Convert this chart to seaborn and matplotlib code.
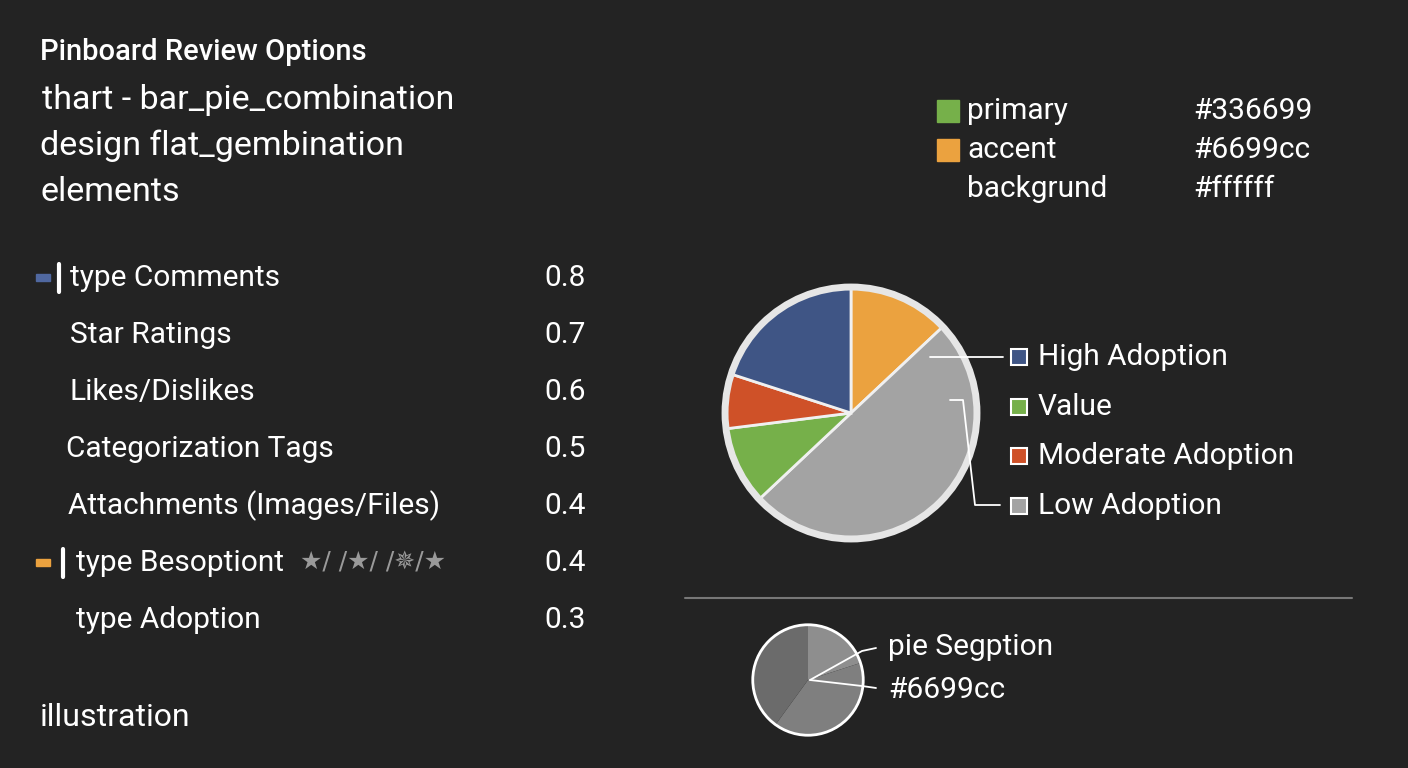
import matplotlib.pyplot as plt
from matplotlib.patches import Rectangle
import seaborn as sns

# --- data ---
header_lines = ["thart - bar_pie_combination", "design flat_gembination", "elements"]
option_labels = ["type Comments", "Star Ratings", "Likes/Dislikes", "Categorization Tags",
                 "Attachments (Images/Files)", "type Besoptiont", "type Adoption"]
option_values = [0.8, 0.7, 0.6, 0.5, 0.4, 0.4, 0.3]
palette_names = ["primary", "accent", "backgrund"]
palette_codes = ["#336699", "#6699cc", "#ffffff"]
pie_labels = ["Accent", "Low Adoption", "Value", "Moderate Adoption", "High Adoption"]
pie_values = [13, 50, 10, 7, 20]
small_pie_values = [20, 40, 40]

BG = "#232323"
BLUE, ORANGE, GREEN, RED, GRAY = "#3f5585", "#eba23f", "#76b04a", "#cf5128", "#a3a3a3"

sns.set_theme(style="dark")
plt.rcParams["font.family"] = ["Roboto", "DejaVu Sans"]

fig = plt.figure(figsize=(14.08, 7.68), dpi=100, facecolor=BG)
W, H = 1408, 768
ax = fig.add_axes([0, 0, 1, 1])
ax.set_xlim(0, W)
ax.set_ylim(H, 0)
ax.set_facecolor(BG)
ax.axis("off")

txt = dict(color="white", va="center", fontsize=21.5)

ax.text(40, 52, "Pinboard Review Options", fontweight="medium", **{**txt, "fontsize": 21})
for i, line in enumerate(header_lines):
    ax.text(42 if i == 0 else 40, 100 + i * 46, line, **{**txt, "fontsize": 24.5})

xs = [70, 70, 70, 66, 68, 76, 76]
for i, (lab, val) in enumerate(zip(option_labels, option_values)):
    y = 278 + i * 57
    ax.text(xs[i], y, lab, **txt)
    ax.text(565, y, f"{val:.1f}", ha="center", **txt)
ax.text(300, 563, "\u2605/ /\u2605/ /\u2735/\u2605", color="#9a9a9a", va="center", fontsize=18,
        family=["DejaVu Sans"])
# small markers before two rows
ax.add_patch(Rectangle((36, 274), 14, 7, color="#5068a0"))
ax.plot([59, 59], [264, 292], color="white", lw=3)
ax.add_patch(Rectangle((36, 559), 14, 7, color=ORANGE))
ax.plot([63, 63], [549, 577], color="white", lw=3)
ax.text(40, 717, "illustration", **{**txt, "fontsize": 23})

# palette legend
for i, (n, c, sw) in enumerate(zip(palette_names, palette_codes, [GREEN, ORANGE, None])):
    y = 111 + i * 39
    if sw:
        ax.add_patch(Rectangle((937, y - 11), 22, 22, color=sw))
    ax.text(967, y, n, **txt)
    ax.text(1193, y, c, **txt)

# main pie
cx, cy, r = 851, 413, 131
pax = fig.add_axes([(cx - r) / W, 1 - (cy + r) / H, 2 * r / W, 2 * r / H])
pax.pie(pie_values, colors=[ORANGE, GRAY, GREEN, RED, BLUE], startangle=90, counterclock=False,
        wedgeprops=dict(edgecolor="#f0f0f0", linewidth=2))
pax.add_patch(plt.Circle((0, 0), 1.0, fill=False, ec="#e6e6e6", lw=5))
pax.set_aspect("equal")
pax.set_xlim(-1.04, 1.04)
pax.set_ylim(-1.04, 1.04)

legend_items = [("High Adoption", BLUE, 357), ("Value", GREEN, 407),
                ("Moderate Adoption", RED, 456), ("Low Adoption", GRAY, 506)]
for lab, col, y in legend_items:
    ax.add_patch(Rectangle((1011, y - 8), 16, 16, facecolor=col, edgecolor="white", lw=1.5))
    ax.text(1038, y, lab, **txt)

ax.plot([685, 1352], [598, 598], color="#777777", lw=1.5)

# small pie
sx, sy, sr = 808, 680, 58
sax = fig.add_axes([(sx - sr) / W, 1 - (sy + sr) / H, 2 * sr / W, 2 * sr / H])
sax.pie(small_pie_values, colors=["#8e8e8e", "#7f7f7f", "#6b6b6b"], startangle=90, counterclock=False,
        wedgeprops=dict(linewidth=0))
sax.add_patch(plt.Circle((0, 0), 1.0, fill=False, ec="white", lw=2))
sax.set_aspect("equal")
sax.set_xlim(-1.05, 1.05)
sax.set_ylim(-1.05, 1.05)
ax.text(888, 647, "pie Segption", **txt)
ax.text(888, 690, "#6699cc", **txt)

# connector lines on top of the pies
top = fig.add_axes([0, 0, 1, 1])
top.set_xlim(0, W)
top.set_ylim(H, 0)
top.axis("off")
top.patch.set_alpha(0)
lk = dict(color="white", lw=1.3)
top.plot([930, 1003], [357, 357], **lk)
top.plot([950, 963, 975, 1000], [400, 400, 505, 505], **lk)
top.plot([810, 862, 876], [680, 651, 648], **lk)
top.plot([810, 862, 876], [680, 686, 688], **lk)

fig.savefig("out.png", dpi=100, facecolor=BG)
